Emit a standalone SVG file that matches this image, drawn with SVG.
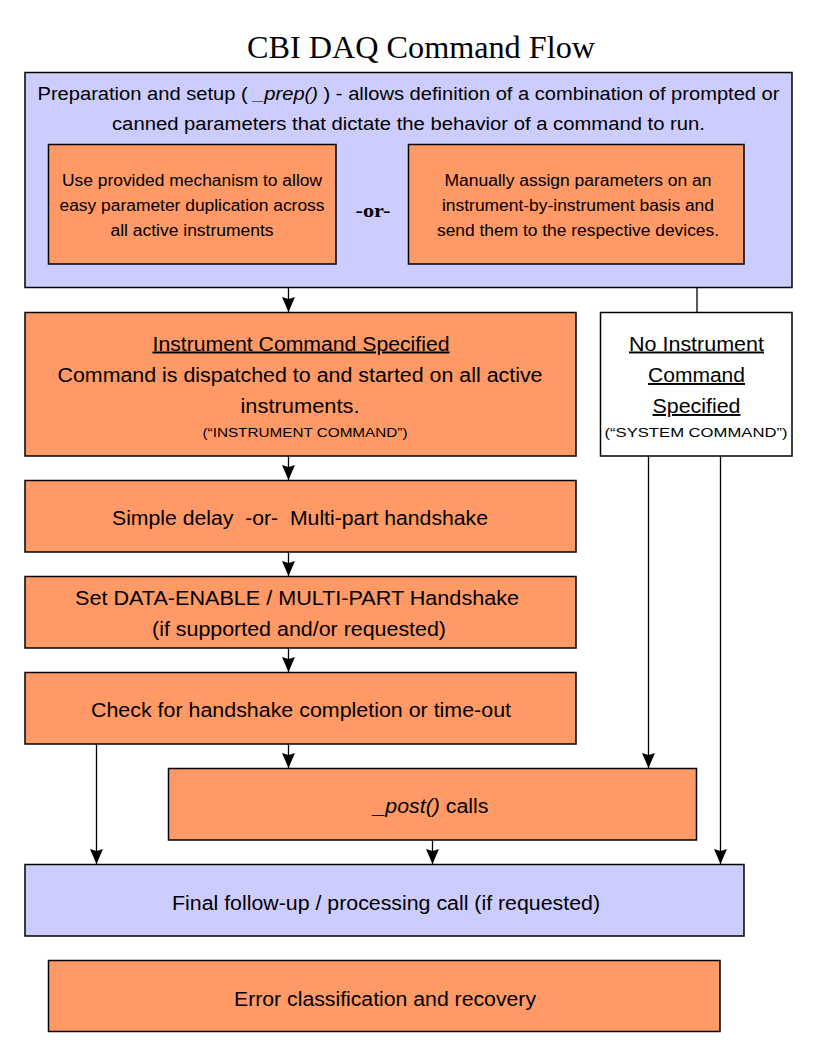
<svg xmlns="http://www.w3.org/2000/svg" width="816" height="1056" viewBox="0 0 816 1056">
<style>
.blue{fill:#ccccff;stroke:#000;stroke-width:1.5}
.orange{fill:#ff9966;stroke:#000;stroke-width:1.5}
.white{fill:#fff;stroke:#000;stroke-width:1.5}
text{font-family:"Liberation Sans",Arial,sans-serif;fill:#000;text-anchor:middle}
.t17{font-size:18px}
.t15{font-size:16px}
.t18{font-size:19.5px}
.t12{font-size:13px}
.u{text-decoration:underline}
.conn line{stroke:#000;stroke-width:1.3;fill:none}
</style>
<defs>
<marker id="ah" markerUnits="userSpaceOnUse" viewBox="0 -6.5 15 13" markerWidth="15" markerHeight="13" refX="15" refY="0" orient="auto">
<path d="M0,-6.5 L2,0 L0,6.5 L15,0 Z" fill="#000"/>
</marker>
</defs>
<rect width="816" height="1056" fill="#fff"/>
<text x="421" y="58" style="font-family:'Liberation Serif','Times New Roman',serif;font-size:31px" textLength="348" lengthAdjust="spacingAndGlyphs">CBI DAQ Command Flow</text>

<g id="prep">
<rect class="blue" x="25" y="72.5" width="767" height="215"/>
<text class="t17" x="408.5" y="100" textLength="742" lengthAdjust="spacingAndGlyphs">Preparation and setup ( <tspan font-style="italic">_prep()</tspan> ) - allows definition of a combination of prompted or</text>
<text class="t17" x="408.5" y="130" textLength="593" lengthAdjust="spacingAndGlyphs">canned parameters that dictate the behavior of a command to run.</text>
</g>
<g id="auto">
<rect class="orange" x="48.5" y="144.5" width="287.5" height="119.5"/>
<text class="t15" x="192" y="186" textLength="260" lengthAdjust="spacingAndGlyphs">Use provided mechanism to allow</text>
<text class="t15" x="192" y="211" textLength="265" lengthAdjust="spacingAndGlyphs">easy parameter duplication across</text>
<text class="t15" x="192" y="236" textLength="163" lengthAdjust="spacingAndGlyphs">all active instruments</text>
</g>
<text x="373" y="217" style="font-family:'Liberation Serif','Times New Roman',serif;font-size:19px;font-weight:bold" textLength="35" lengthAdjust="spacingAndGlyphs">-or-</text>
<g id="manual">
<rect class="orange" x="408.5" y="144.5" width="335.5" height="119.5"/>
<text class="t15" x="578" y="186" textLength="267" lengthAdjust="spacingAndGlyphs">Manually assign parameters on an</text>
<text class="t15" x="578" y="211" textLength="272" lengthAdjust="spacingAndGlyphs">instrument-by-instrument basis and</text>
<text class="t15" x="578" y="236" textLength="282" lengthAdjust="spacingAndGlyphs">send them to the respective devices.</text>
</g>

<g id="instcmd">
<rect class="orange" x="25" y="312.5" width="551" height="143.5"/>
<text class="t18 u" x="301" y="350.5" textLength="297" lengthAdjust="spacingAndGlyphs">Instrument Command Specified</text>
<text class="t18" x="300" y="382" textLength="485" lengthAdjust="spacingAndGlyphs">Command is dispatched to and started on all active</text>
<text class="t18" x="300" y="413" textLength="119" lengthAdjust="spacingAndGlyphs">instruments.</text>
<text class="t12" x="305" y="437" textLength="205" lengthAdjust="spacingAndGlyphs">(“INSTRUMENT COMMAND”)</text>
</g>
<g id="syscmd">
<rect class="white" x="600.5" y="312.5" width="191.5" height="143.5"/>
<text class="t18 u" x="696.5" y="350.5" textLength="135" lengthAdjust="spacingAndGlyphs">No Instrument</text>
<text class="t18 u" x="696.5" y="382" textLength="97" lengthAdjust="spacingAndGlyphs">Command</text>
<text class="t18 u" x="696.5" y="413" textLength="88" lengthAdjust="spacingAndGlyphs">Specified</text>
<text class="t12" x="696" y="437" textLength="183" lengthAdjust="spacingAndGlyphs">(“SYSTEM COMMAND”)</text>
</g>
<g id="delay">
<rect class="orange" x="25" y="480.5" width="551" height="71.5"/>
<text class="t18" x="300" y="525" textLength="376" lengthAdjust="spacingAndGlyphs" style="white-space:pre">Simple delay  -or-  Multi-part handshake</text>
</g>
<g id="dataenable">
<rect class="orange" x="25" y="576.5" width="551" height="71.5"/>
<text class="t18" x="297" y="605" textLength="444" lengthAdjust="spacingAndGlyphs">Set DATA-ENABLE / MULTI-PART Handshake</text>
<text class="t18" x="299" y="636" textLength="294" lengthAdjust="spacingAndGlyphs">(if supported and/or requested)</text>
</g>
<g id="check">
<rect class="orange" x="25" y="672.5" width="551" height="71.5"/>
<text class="t18" x="301" y="717" textLength="420" lengthAdjust="spacingAndGlyphs">Check for handshake completion or time-out</text>
</g>
<g id="post">
<rect class="orange" x="168.5" y="768.5" width="528" height="71.5"/>
<text class="t18" x="431" y="813" textLength="115" lengthAdjust="spacingAndGlyphs"><tspan font-style="italic">_post()</tspan> calls</text>
</g>
<g id="final">
<rect class="blue" x="25" y="864.5" width="719" height="71.5"/>
<text class="t18" x="386" y="910" textLength="428" lengthAdjust="spacingAndGlyphs">Final follow-up / processing call (if requested)</text>
</g>
<g id="error">
<rect class="orange" x="48.5" y="960.5" width="671.5" height="71"/>
<text class="t18" x="385" y="1005.5" textLength="302" lengthAdjust="spacingAndGlyphs">Error classification and recovery</text>
</g>

<g class="conn" id="connectors">
<line x1="288.5" y1="288" x2="288.5" y2="312" marker-end="url(#ah)"/>
<line x1="697" y1="288" x2="697" y2="312"/>
<line x1="288.5" y1="456" x2="288.5" y2="480" marker-end="url(#ah)"/>
<line x1="288.5" y1="552" x2="288.5" y2="576" marker-end="url(#ah)"/>
<line x1="288.5" y1="648" x2="288.5" y2="672" marker-end="url(#ah)"/>
<line x1="288.5" y1="744" x2="288.5" y2="768" marker-end="url(#ah)"/>
<line x1="648.5" y1="456" x2="648.5" y2="768" marker-end="url(#ah)"/>
<line x1="720.5" y1="456" x2="720.5" y2="864" marker-end="url(#ah)"/>
<line x1="96.5" y1="744" x2="96.5" y2="864" marker-end="url(#ah)"/>
<line x1="432.5" y1="840" x2="432.5" y2="864" marker-end="url(#ah)"/>
</g>
</svg>
